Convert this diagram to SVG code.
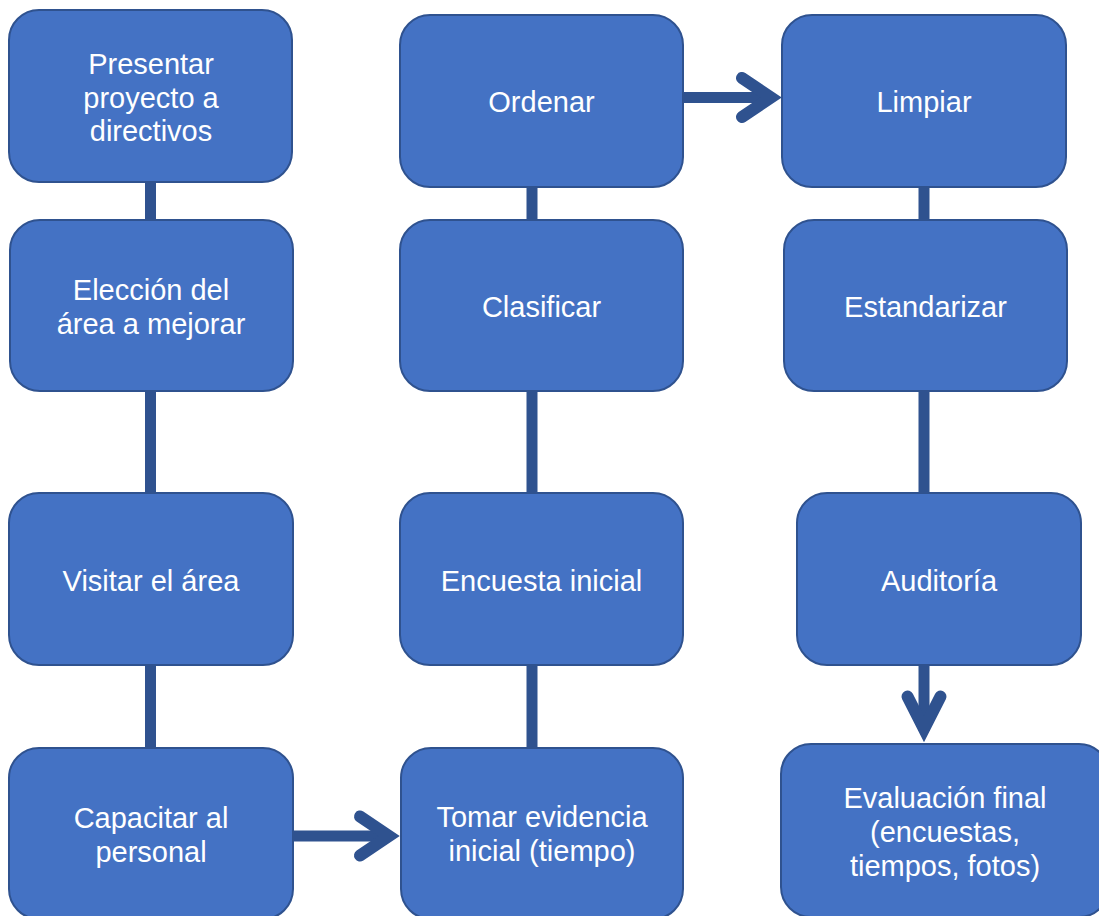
<svg xmlns="http://www.w3.org/2000/svg" width="1099" height="916" viewBox="0 0 1099 916">
  <style>
    .node rect { fill: #4472C4; stroke: #2F528F; stroke-width: 2; }
    .node text { fill: #FFFFFF; font-family: "Liberation Sans", Arial, sans-serif; font-size: 29px; text-anchor: middle; }
    .link { stroke: #2F528F; stroke-width: 11; fill: none; }
    .head { stroke: #2F528F; stroke-width: 12; fill: none; stroke-linecap: round; stroke-linejoin: miter; }
  </style>
  <rect width="1099" height="916" fill="#FFFFFF"/>

  <!-- connectors -->
  <g id="connectors">
    <line class="link" x1="150.5" y1="182" x2="150.5" y2="748"/>
    <line class="link" x1="532" y1="187" x2="532" y2="748"/>
    <line class="link" x1="924" y1="187" x2="924" y2="493"/>
    <!-- Ordenar -> Limpiar -->
    <line class="link" x1="683" y1="97.5" x2="772" y2="97.5"/>
    <polyline class="head" points="742,78 771,97.5 742,117"/>
    <!-- Capacitar -> Tomar evidencia -->
    <line class="link" x1="293" y1="836" x2="390" y2="836"/>
    <polyline class="head" points="360,816.5 389,836 360,855.5"/>
    <!-- Auditoría -> Evaluación final -->
    <line class="link" x1="924" y1="665" x2="924" y2="731"/>
    <polyline class="head" points="907.5,696.5 924,729 940.5,696.5"/>
  </g>

  <!-- column 1 -->
  <g id="presentar" class="node">
    <rect x="9" y="10" width="283" height="172" rx="30"/>
    <text x="151" y="74">Presentar</text>
    <text x="151" y="107.5">proyecto a</text>
    <text x="151" y="141">directivos</text>
  </g>
  <g id="eleccion" class="node">
    <rect x="10" y="220" width="283" height="171" rx="30"/>
    <text x="151" y="300">Elección del</text>
    <text x="151" y="333.5">área a mejorar</text>
  </g>
  <g id="visitar" class="node">
    <rect x="9" y="493" width="284" height="172" rx="30"/>
    <text x="151" y="591">Visitar el área</text>
  </g>
  <g id="capacitar" class="node">
    <rect x="9" y="748" width="284" height="171" rx="30"/>
    <text x="151" y="828">Capacitar al</text>
    <text x="151" y="861.5">personal</text>
  </g>

  <!-- column 2 -->
  <g id="ordenar" class="node">
    <rect x="400" y="15" width="283" height="172" rx="30"/>
    <text x="541.5" y="112">Ordenar</text>
  </g>
  <g id="clasificar" class="node">
    <rect x="400" y="220" width="283" height="171" rx="30"/>
    <text x="541.5" y="317">Clasificar</text>
  </g>
  <g id="encuesta" class="node">
    <rect x="400" y="493" width="283" height="172" rx="30"/>
    <text x="541.5" y="591">Encuesta inicial</text>
  </g>
  <g id="tomar-evidencia" class="node">
    <rect x="401" y="748" width="282" height="171" rx="30"/>
    <text x="542" y="827">Tomar evidencia</text>
    <text x="542" y="861">inicial (tiempo)</text>
  </g>

  <!-- column 3 -->
  <g id="limpiar" class="node">
    <rect x="782" y="15" width="284" height="172" rx="30"/>
    <text x="924" y="112">Limpiar</text>
  </g>
  <g id="estandarizar" class="node">
    <rect x="784" y="220" width="283" height="171" rx="30"/>
    <text x="925.5" y="317">Estandarizar</text>
  </g>
  <g id="auditoria" class="node">
    <rect x="797" y="493" width="284" height="172" rx="30"/>
    <text x="939" y="591">Auditoría</text>
  </g>
  <g id="evaluacion" class="node">
    <rect x="781" y="744" width="328" height="173" rx="30"/>
    <text x="945" y="808">Evaluación final</text>
    <text x="945" y="842">(encuestas,</text>
    <text x="945" y="876">tiempos, fotos)</text>
  </g>
</svg>
